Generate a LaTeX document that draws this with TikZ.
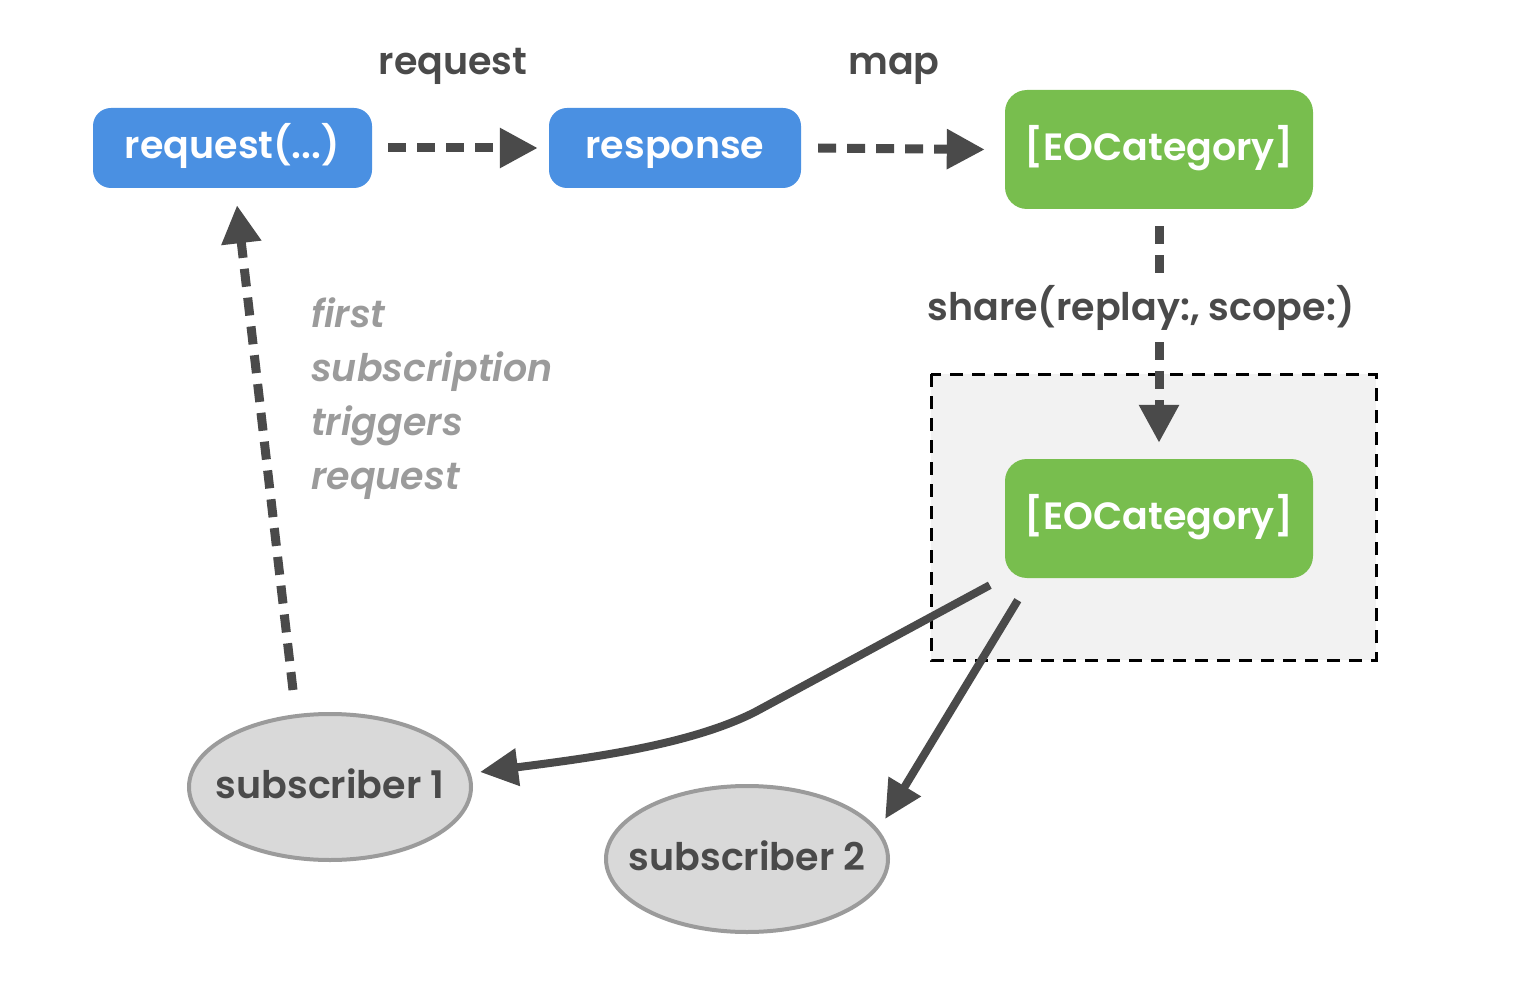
\documentclass[tikz,border=0pt]{standalone}
\usepackage{fontspec}
\setmainfont{Poppins}[BoldFont={Poppins SemiBold}, BoldItalicFont={Poppins SemiBold Italic}]
\usetikzlibrary{arrows.meta,shapes.geometric}
\definecolor{boxblue}{HTML}{4A90E2}
\definecolor{boxgreen}{HTML}{78BE4E}
\definecolor{darkline}{HTML}{4A4A4A}
\definecolor{subfill}{HTML}{D9D9D9}
\definecolor{subdraw}{HTML}{9B9B9B}
\definecolor{regionfill}{HTML}{F2F2F2}
\definecolor{notegray}{HTML}{9B9B9B}
\tikzset{
  bigfont/.style={font=\fontsize{38}{44}\selectfont\bfseries},
  centred/.style={text height=30pt, text depth=8pt},
  bluebox/.style={fill=boxblue, rounded corners=18pt, text=white, bigfont, minimum height=80pt, inner sep=0pt, centred},
  greenbox/.style={fill=boxgreen, rounded corners=22pt, text=white, bigfont, minimum width=308pt, minimum height=119pt, inner sep=0pt, centred},
  subnode/.style={ellipse, fill=subfill, draw=subdraw, line width=4pt, minimum width=282pt, minimum height=146pt, inner sep=0pt, text=darkline, bigfont, centred},
  lbl/.style={text=darkline, bigfont, inner sep=2pt, anchor=base},
  dasharrow/.style={draw=darkline, line width=9pt, dash pattern=on 18pt off 11pt, -{Triangle[length=38pt,width=38pt]}},
  solidarrow/.style={draw=darkline, line width=8pt, -{Triangle[length=38pt,width=36pt]}},
}
\begin{document}
\begin{tikzpicture}[x=1pt,y=-1pt]
\useasboundingbox (0,0) rectangle (1518,1008);
% region
\draw[fill=regionfill, draw=black, line width=3pt, dash pattern=on 13pt off 9pt] (931,374) rectangle (1376,660);
% nodes
\node[bluebox, minimum width=279pt] (req) at (232.5,148) {request(...)};
\node[bluebox, minimum width=252pt] (resp) at (675,148) {response};
\node[greenbox] (top) at (1159,149.5) {[EOCategory]};
\node[greenbox] (bot) at (1159,518.5) {[EOCategory]};
\node[subnode] (sub1) at (330,787) {\makebox[0pt]{subscriber 1}};
\node[subnode] (sub2) at (747,859) {\makebox[0pt]{subscriber 2}};
% labels
\node[lbl] (lreq) at (453,75) {request};
\node[lbl] (lmap) at (894,75) {map};
\node[align=left, anchor=base west, text=notegray, font=\fontsize{38}{54}\selectfont\bfseries\itshape, inner sep=0pt] (note) at (311,489) {first\\subscription\\triggers\\request};
% connectors
\draw[dasharrow] ([xshift=16pt]req.east) -- ([xshift=-11pt]resp.west);
\draw[dasharrow] ([xshift=17pt]resp.east) -- ([xshift=-20pt]top.west);
\draw[dasharrow] ([yshift=-17pt]top.south) -- ([yshift=16pt]bot.north);
\node[lbl, fill=white] (lshare) at (1141,321) {share(replay:, scope:)};
\draw[dasharrow] ([xshift=-37pt,yshift=22pt]sub1.north) -- ([xshift=4.5pt,yshift=-17pt]req.south);
\draw[solidarrow] ([xshift=-15pt,yshift=-7pt]bot.south west) -- (755,712) .. controls (690,745) and (590,758) .. ([xshift=7pt,yshift=15pt]sub1.east);
\draw[solidarrow] ([xshift=13pt,yshift=-22pt]bot.south west) -- ([xshift=37pt,yshift=-13pt]sub2.north east);
\end{tikzpicture}
\end{document}
